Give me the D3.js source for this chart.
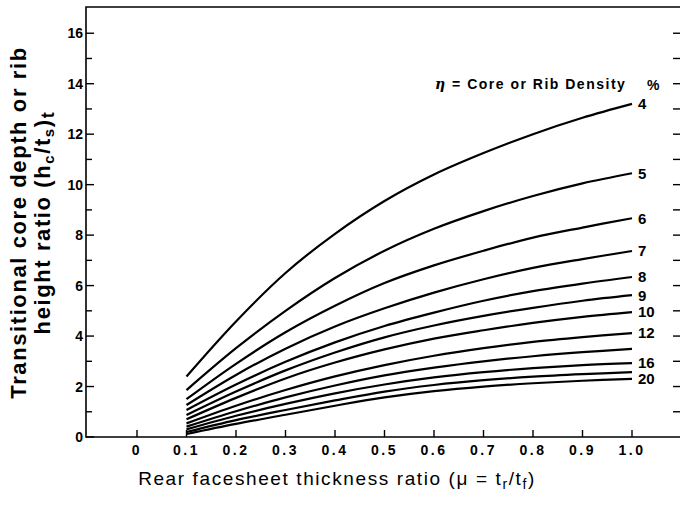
<!DOCTYPE html>
<html>
<head>
<meta charset="utf-8">
<script src="https://cdn.jsdelivr.net/npm/d3@7"></script>
<style>
  html, body { margin: 0; padding: 0; background: #fff; }
  svg { display: block; }
  text { font-family: "Liberation Sans", Arial, Helvetica, sans-serif; fill: #000; }
</style>
</head>
<body>
<svg id="chart" width="680" height="509"></svg>
<script>
// Rear facesheet thickness ratio sample positions
const muValues = [0.1, 0.2, 0.3, 0.4, 0.5, 0.6, 0.7, 0.8, 0.9, 1.0];

// Core / rib density (%) for each curve
const densities = [4, 5, 6, 7, 8, 9, 10, 12, 14, 16, 18, 20];
// Densities that carry a label at the right end of the curve
const labelledDensities = [4, 5, 6, 7, 8, 9, 10, 12, 16, 20];

// Transitional core depth ratio (hc/ts)t, one row per density
const eta4  = [2.40, 4.58, 6.50, 8.05, 9.35, 10.40, 11.25, 12.00, 12.65, 13.20];
const eta5  = [1.86, 3.52, 5.00, 6.30, 7.38, 8.25, 8.95, 9.55, 10.05, 10.45];
const eta6  = [1.50, 2.90, 4.15, 5.20, 6.10, 6.80, 7.38, 7.90, 8.30, 8.67];
const eta7  = [1.27, 2.46, 3.50, 4.38, 5.10, 5.72, 6.25, 6.70, 7.05, 7.37];
const eta8  = [1.07, 2.08, 2.98, 3.75, 4.40, 4.93, 5.40, 5.78, 6.08, 6.34];
const eta9  = [0.87, 1.80, 2.64, 3.35, 3.95, 4.42, 4.80, 5.12, 5.40, 5.62];
const eta10 = [0.70, 1.55, 2.32, 2.95, 3.47, 3.90, 4.23, 4.52, 4.76, 4.95];
const eta12 = [0.54, 1.24, 1.86, 2.40, 2.85, 3.22, 3.52, 3.77, 3.96, 4.12];
const eta14 = [0.41, 1.02, 1.57, 2.04, 2.44, 2.75, 3.00, 3.20, 3.36, 3.49];
const eta16 = [0.30, 0.84, 1.31, 1.73, 2.08, 2.36, 2.57, 2.73, 2.85, 2.93];
const eta18 = [0.20, 0.67, 1.07, 1.45, 1.80, 2.06, 2.25, 2.39, 2.49, 2.57];
const eta20 = [0.12, 0.52, 0.88, 1.24, 1.57, 1.82, 2.00, 2.13, 2.23, 2.30];

const seriesValues = [eta4, eta5, eta6, eta7, eta8, eta9, eta10, eta12, eta14, eta16, eta18, eta20];

// Axis tick labels
const xTickValues = [0, 0.1, 0.2, 0.3, 0.4, 0.5, 0.6, 0.7, 0.8, 0.9, 1.0];
const xTickLabels = ["0", "0.1", "0.2", "0.3", "0.4", "0.5", "0.6", "0.7", "0.8", "0.9", "1.0"];
const yTickValues = [0, 2, 4, 6, 8, 10, 12, 14, 16];

const svg = d3.select("#chart");

const x = d3.scaleLinear().domain([-0.1, 1.1]).range([87.5, 681.5]);
const y = d3.scaleLinear().domain([0, 17]).range([437, 8]);

const frame = svg.append("g").attr("stroke", "#000").attr("fill", "none");

// Frame: left, bottom and top edges
frame.append("path")
  .attr("stroke-width", 1.6)
  .attr("d", `M${x.range()[1]},${y(0)}H${x(-0.1) - 1.5}V${y(17) - 1}H${x.range()[1]}`);

// Left axis ticks, one per unit, pointing inwards
const yAllTicks = d3.range(0, 17, 1);
frame.selectAll(".ytick").data(yAllTicks).join("line")
  .attr("stroke-width", 1.4)
  .attr("x1", x(-0.1) - 1.5)
  .attr("x2", d => x(-0.1) - 1.5 + (d % 2 === 0 ? 8 : 6))
  .attr("y1", d => y(d)).attr("y2", d => y(d));

// Right-hand ticks at the edge
frame.selectAll(".rtick").data(d3.range(1, 17, 1)).join("line")
  .attr("stroke-width", 1.4)
  .attr("x1", 673).attr("x2", 680)
  .attr("y1", d => y(d)).attr("y2", d => y(d));

// Bottom axis ticks, pointing upwards
frame.selectAll(".xtick").data(xTickValues).join("line")
  .attr("stroke-width", 1.4)
  .attr("x1", d => x(d)).attr("x2", d => x(d))
  .attr("y1", y(0)).attr("y2", y(0) - 7);

// Tick labels
svg.append("g").selectAll("text").data(yTickValues).join("text")
  .attr("x", 83)
  .attr("y", d => y(d))
  .attr("dy", "0.36em")
  .attr("text-anchor", "end")
  .attr("font-size", 14)
  .attr("font-weight", "bold")
  .text(d => d);

svg.append("g").selectAll("text").data(xTickValues).join("text")
  .attr("x", d => x(d))
  .attr("y", 455)
  .attr("text-anchor", "middle")
  .attr("font-size", 14)
  .attr("font-weight", "bold")
  .attr("letter-spacing", 2.5)
  .text((d, i) => xTickLabels[i]);

// Curves
const line = d3.line()
  .x((d, i) => x(muValues[i]))
  .y(d => y(d))
  .curve(d3.curveCatmullRom.alpha(0.5));

svg.append("g")
  .attr("fill", "none")
  .attr("stroke", "#000")
  .attr("stroke-width", 2.2)
  .attr("stroke-linecap", "butt")
  .selectAll("path").data(seriesValues).join("path")
  .attr("d", d => line(d));

// End labels for the curves
svg.append("g").selectAll("text")
  .data(densities.map((eta, i) => ({ eta, v: seriesValues[i][seriesValues[i].length - 1] }))
                 .filter(d => labelledDensities.includes(d.eta)))
  .join("text")
  .attr("x", x(1.0) + 6)
  .attr("y", d => y(d.v))
  .attr("dy", "0.36em")
  .attr("font-size", 15)
  .attr("font-weight", "bold")
  .text(d => d.eta);

// Legend heading
const legend = svg.append("text")
  .attr("x", 435)
  .attr("y", 89)
  .attr("font-size", 14)
  .attr("font-weight", "bold")
  .attr("letter-spacing", 1.5);
legend.append("tspan").attr("font-style", "italic").attr("font-family", "DejaVu Serif").text("η");
legend.append("tspan").text(" = Core or Rib Density");

svg.append("text")
  .attr("x", 647)
  .attr("y", 90)
  .attr("font-size", 14)
  .attr("font-weight", "bold")
  .text("%");

// Axis titles
const yTitle = svg.append("g")
  .attr("transform", `translate(0, ${(y(0) + y(17)) / 2}) rotate(-90)`);

yTitle.append("text")
  .attr("x", 0).attr("y", 26)
  .attr("text-anchor", "middle")
  .attr("font-size", 22)
  .attr("font-weight", "bold")
  .attr("letter-spacing", 1.6)
  .text("Transitional core depth or rib");

const t2 = yTitle.append("text")
  .attr("x", 0).attr("y", 50)
  .attr("text-anchor", "middle")
  .attr("font-size", 22)
  .attr("font-weight", "bold")
  .attr("letter-spacing", 1.6);
t2.append("tspan").text("height ratio (h");
t2.append("tspan").attr("font-size", 15).attr("dy", 4).text("c");
t2.append("tspan").attr("dy", -4).text("/t");
t2.append("tspan").attr("font-size", 15).attr("dy", 4).text("s");
t2.append("tspan").attr("dy", -4).text(")");
t2.append("tspan").attr("font-size", 18).attr("dy", 4).text("t");

const xt = svg.append("text")
  .attr("x", 337)
  .attr("y", 485)
  .attr("text-anchor", "middle")
  .attr("font-size", 19)
  .attr("letter-spacing", 1.6);
xt.append("tspan").text("Rear facesheet thickness ratio (μ = t");
xt.append("tspan").attr("font-size", 14).attr("dy", 4).text("r");
xt.append("tspan").attr("dy", -4).text("/t");
xt.append("tspan").attr("font-size", 14).attr("dy", 4).text("f");
xt.append("tspan").attr("dy", -4).text(")");
</script>
</body>
</html>
